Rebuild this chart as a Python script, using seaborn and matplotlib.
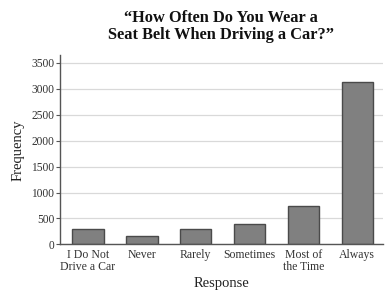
import matplotlib
matplotlib.use("Agg")
import matplotlib.pyplot as plt
import seaborn as sns
import pandas as pd

categories = ["I Do Not\nDrive a Car", "Never", "Rarely", "Sometimes", "Most of\nthe Time", "Always"]
frequency = [300, 160, 300, 390, 740, 3140]
yticks = [0, 500, 1000, 1500, 2000, 2500, 3000, 3500]

df = pd.DataFrame({"Response": categories, "Frequency": frequency})

sns.set_theme(style="white")
plt.rcParams['font.family'] = ['Liberation Serif', 'DejaVu Serif']

fig = plt.figure(figsize=(3.85, 2.92), dpi=100)
ax = fig.add_axes([0.156, 0.163, 0.839, 0.648])

ax.set_axisbelow(True)
for t in yticks:
    ax.axhline(t, color="#d9d9d9", lw=0.9, zorder=0)

sns.barplot(data=df, x="Response", y="Frequency", color="#808080",
            edgecolor="#4a4a4a", linewidth=1.0, width=0.58, saturation=1, ax=ax, zorder=2)

ax.set_xlim(-0.52, 5.48)
ax.set_ylim(0, 3650)
ax.set_yticks(yticks)
ax.set_yticklabels([str(t) for t in yticks], fontsize=8.3, color="#333333")
ax.tick_params(axis="x", labelsize=8.5, colors="#333333", length=0, pad=3)
ax.tick_params(axis="y", length=3, width=0.8, color="#555555", pad=1, left=True)
for lbl in ax.get_xticklabels():
    lbl.set_color("#333333")
    lbl.set_linespacing(1.05)

for s in ["top", "right"]:
    ax.spines[s].set_visible(False)
ax.spines["left"].set_color("#555555")
ax.spines["left"].set_linewidth(1.0)
ax.spines["bottom"].set_color("#555555")
ax.spines["bottom"].set_linewidth(1.0)

ax.set_xlabel("Response", fontsize=10.5, color="#222222", labelpad=3)
ax.set_ylabel("Frequency", fontsize=10.5, color="#222222", labelpad=5)

fig.text(0.575, 0.965, "\u201cHow Often Do You Wear a\nSeat Belt When Driving a Car?\u201d",
         ha="center", va="top", fontsize=11.8, fontweight="bold", color="#111111",
         linespacing=1.05)

fig.savefig("out.png", dpi=100)
